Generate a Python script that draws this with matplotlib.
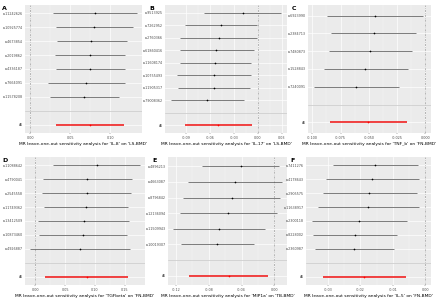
import numpy as np
import matplotlib
matplotlib.use('Agg')
from matplotlib import pyplot as plt

# panel A: IL-8 on LS-BMD
snps_a = ['rs11242626', 'rs10925774', 'rs4673854', 'rs2019862', 'rs4336187', 'rs7664091', 'rs11578208']
b_a = [0.081, 0.080, 0.0765, 0.0745, 0.0745, 0.0696, 0.0676]
lo_a = [0.0283, 0.0316, 0.033, 0.031, 0.0316, 0.0227, 0.025]
up_a = [0.133, 0.128, 0.121, 0.119, 0.118, 0.1178, 0.1109]
all_a = [0.0745, 0.0324, 0.1166]

# panel B: IL-17 on LS-BMD
snps_b = ['rs9513925', 'rs7262952', 'rs2760366', 'rs61860416', 'rs11608174', 'rs10755493', 'rs11905317', 'rs79008362']
b_b = [-0.0194, -0.0469, -0.0494, -0.0524, -0.0537, -0.0549, -0.0553, -0.0642]
lo_b = [-0.068, -0.0921, -0.0976, -0.0985, -0.0976, -0.1014, -0.1001, -0.110]
up_b = [0.0296, -0.0013, -0.0013, -0.0055, -0.0085, -0.0085, -0.0097, -0.018]
all_b = [-0.0503, -0.0913, -0.0076]

# panel C: TNF_b on FN-BMD
snps_c = ['rs6923990', 'rs2384713', 'rs7480873', 'rs1528843', 'rs7240091']
b_c = [-0.0445, -0.0457, -0.0486, -0.0531, -0.0614]
lo_c = [-0.0866, -0.0830, -0.0854, -0.0899, -0.0988]
up_c = [-0.0021, -0.0086, -0.0119, -0.0157, -0.0237]
all_c = [-0.0507, -0.0845, -0.0163]

# panel D: TGFbeta on FN-BMD
snps_d = ['rs11088642', 'rs4790041', 'rs2545558', 'rs11749362', 'rs13412509', 'rs10873460', 'rs4926887']
b_d = [0.1028, 0.0872, 0.0861, 0.085, 0.0811, 0.0794, 0.0744]
lo_d = [0.0294, 0.0128, 0.0106, 0.015, 0.005, 0.0061, -0.0083]
up_d = [0.175, 0.1628, 0.161, 0.1556, 0.158, 0.1539, 0.159]
all_d = [0.0861, 0.0161, 0.155]

# panel E: MIP1a on TB-BMD
snps_e = ['rs4896213', 'rs4663087', 'rs8796842', 'rs12136094', 'rs11509943', 'rs10019307']
b_e = [-0.0412, -0.048, -0.052, -0.056, -0.0672, -0.0696]
lo_e = [-0.088, -0.1048, -0.1112, -0.1152, -0.1232, -0.1136]
up_e = [0.006, 0.0088, 0.0072, 0.0032, -0.0112, -0.0252]
all_e = [-0.0556, -0.104, -0.0072]

# panel F: IL-5 on FN-BMD
snps_f = ['rs7411276', 'rs4178643', 'rs2905575', 'rs11638917', 'rs2300118', 'rs8228002', 'rs2360987']
b_f = [-0.0154, -0.0163, -0.0173, -0.0178, -0.0204, -0.0217, -0.0219]
lo_f = [-0.0284, -0.0306, -0.0316, -0.033, -0.035, -0.0346, -0.034]
up_f = [-0.0024, -0.0018, -0.0027, -0.002, -0.0055, -0.0086, -0.0097]
all_f = [-0.0188, -0.0314, -0.0059]

ticks = {
    'A': [0.00, 0.05, 0.10],
    'B': [-0.09, -0.06, -0.03, 0.00, 0.03],
    'C': [-0.100, -0.075, -0.050, -0.025, 0.000],
    'D': [0.00, 0.05, 0.10, 0.15],
    'E': [-0.12, -0.08, -0.04, 0.00],
    'F': [-0.03, -0.02, -0.01, 0.00],
}
tickfmt = {'A': '%.2f', 'B': '%.2f', 'C': '%.3f', 'D': '%.2f', 'E': '%.2f', 'F': '%.2f'}

panels = [
    ('A', snps_a, b_a, lo_a, up_a, all_a, "'IL-8' on 'LS-BMD'"),
    ('B', snps_b, b_b, lo_b, up_b, all_b, "'IL-17' on 'LS-BMD'"),
    ('C', snps_c, b_c, lo_c, up_c, all_c, "'TNF_b' on 'FN-BMD'"),
    ('D', snps_d, b_d, lo_d, up_d, all_d, "'TGFbeta' on 'FN-BMD'"),
    ('E', snps_e, b_e, lo_e, up_e, all_e, "'MIP1a' on 'TB-BMD'"),
    ('F', snps_f, b_f, lo_f, up_f, all_f, "'IL-5' on 'FN-BMD'"),
]

# axes boxes in pixels: left, right, top, bottom
boxes = {
    'A': (25, 142, 5, 133), 'B': (165, 287, 5, 133), 'C': (308, 431, 5, 133),
    'D': (25, 145, 157, 285), 'E': (168, 287, 157, 285), 'F': (306, 431, 157, 285),
}
W, H = 444, 300

fig = plt.figure(figsize=(W / 100, H / 100), dpi=100)

for name, snps, b, lo, up, allv, what in panels:
    l, r, t, bt = boxes[name]
    ax = fig.add_axes([l / W, 1 - bt / H, (r - l) / W, (bt - t) / H])
    ax.set_facecolor('#EBEBEB')
    n = len(snps)
    ys = np.arange(n + 2, 2, -1)
    labels = ['All', ''] + snps[::-1]

    ax.axvline(0, color='#9A9A9A', lw=0.5, ls=(0, (3, 1.5, 1, 1.5)), zorder=2)
    ax.hlines(ys, lo, up, color='#5A5A5A', lw=0.55, zorder=3)
    ax.scatter(b, ys, s=1.5, color='black', zorder=4, linewidths=0)
    ax.hlines(1, allv[1], allv[2], color='#F01010', lw=1.1, zorder=3)
    ax.scatter([allv[0]], [1], s=1.5, color='red', zorder=4, linewidths=0)
    ax.axhline(2, color='#C4C4C4', lw=0.5, zorder=2)

    lo_all = min(min(lo), allv[1], 0)
    hi_all = max(max(up), allv[2], 0)
    pad = (hi_all - lo_all) * 0.05
    ax.set_xlim(lo_all - pad, hi_all + pad)
    ax.set_ylim(0.4, n + 2.6)

    tk = ticks[name]
    ax.set_xticks(tk)
    ax.set_xticklabels([tickfmt[name] % v for v in tk])
    ax.set_xticks([(tk[i] + tk[i + 1]) / 2 for i in range(len(tk) - 1)], minor=True)
    ax.set_yticks(range(1, n + 3))
    ax.set_yticklabels(labels)
    ax.grid(True, which='major', color='white', lw=0.5)
    ax.grid(True, which='minor', axis='x', color='#F5F5F5', lw=0.3)
    ax.set_axisbelow(True)
    ax.tick_params(axis='x', labelsize=2.4, length=1, width=0.3, pad=1, colors='#4D4D4D', labelcolor='#4D4D4D')
    ax.tick_params(axis='y', labelsize=2.4, length=0, pad=1.5, labelcolor='#4D4D4D')
    ax.tick_params(which='minor', length=0)
    for s in ax.spines.values():
        s.set_visible(False)
    ax.set_xlabel('MR leave-one-out sensitivity analysis for ' + what, fontsize=3.2, labelpad=1.5)

    fig.text((l - 23 if name in 'AD' else l - 16) / W, 1 - (t + 1) / H, name,
             fontsize=4.5, fontweight='bold', va='top', ha='left')

fig.savefig('out.png', dpi=100)
